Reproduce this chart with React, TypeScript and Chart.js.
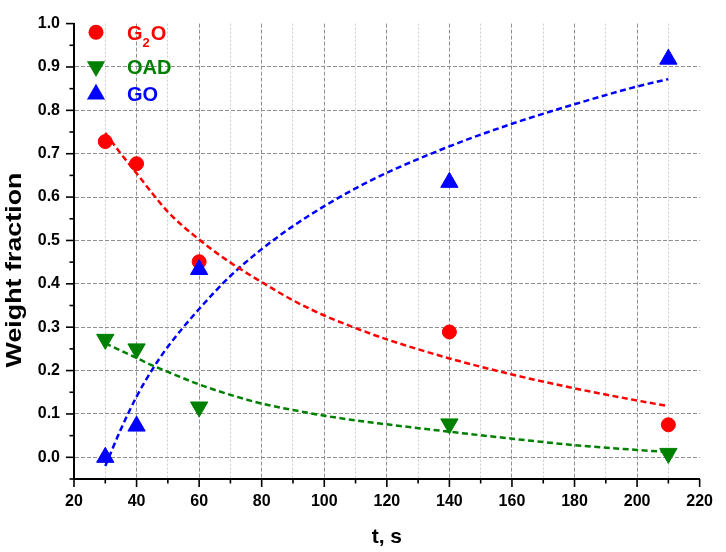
import { useEffect, useRef } from 'react';
import { Chart, registerables } from 'chart.js';

Chart.register(...registerables);

// measured points
const timeS = [30, 40, 60, 140, 210];
const g2o = [0.728, 0.677, 0.451, 0.289, 0.075];
const oad = [0.272, 0.25, 0.116, 0.077, 0.009];
const go = [0.0, 0.072, 0.433, 0.634, 0.918];

// fitted dashed curves
const fitX = [30, 35, 40, 45, 50, 60, 70, 80, 90, 100, 110, 120, 140, 160, 180, 200, 210];
const fitG2O = [0.748, 0.7, 0.655, 0.609, 0.566, 0.502, 0.449, 0.404, 0.362, 0.327, 0.298, 0.272, 0.228, 0.191, 0.159, 0.131, 0.118];
const fitOAD = [0.263, 0.246, 0.229, 0.212, 0.197, 0.168, 0.144, 0.124, 0.109, 0.096, 0.085, 0.076, 0.059, 0.043, 0.028, 0.017, 0.012];
const fitGO = [-0.02, 0.065, 0.14, 0.202, 0.255, 0.342, 0.418, 0.48, 0.533, 0.579, 0.62, 0.656, 0.717, 0.769, 0.814, 0.855, 0.872];

// axis ticks
const xMajorTicks = [20, 40, 60, 80, 100, 120, 140, 160, 180, 200, 220];
const yMajorTicks = ['0.0', '0.1', '0.2', '0.3', '0.4', '0.5', '0.6', '0.7', '0.8', '0.9', '1.0'];

const seriesNames = ['G2O', 'OAD', 'GO'];
const seriesColors = ['#ff0000', '#008000', '#0000ff'];

const FONT = '"Liberation Sans", Arial, sans-serif';

const pts = (xs: number[], ys: number[]) => xs.map((x, i) => ({ x, y: ys[i] }));
const isYMajor = (v: number) => Math.round(v * 100) % 10 === 0 && yMajorTicks.includes(v.toFixed(1));

function drawMarker(ctx: CanvasRenderingContext2D, kind: string, cx: number, cy: number, color: string) {
  ctx.fillStyle = color;
  ctx.beginPath();
  if (kind === 'circle') {
    ctx.arc(cx, cy, 7.5, 0, Math.PI * 2);
  } else {
    const r = 10.5;
    const dir = kind === 'down' ? 1 : -1;
    ctx.moveTo(cx, cy + dir * r);
    ctx.lineTo(cx + r * Math.sin((2 * Math.PI) / 3), cy - dir * r * 0.5);
    ctx.lineTo(cx - r * Math.sin((2 * Math.PI) / 3), cy - dir * r * 0.5);
    ctx.closePath();
  }
  ctx.fill();
}

const decor = {
  id: 'decor',
  afterDraw(chart: any) {
    const { ctx, chartArea: a, scales } = chart;
    const x = scales.x;
    const y = scales.y;
    ctx.save();
    ctx.strokeStyle = '#000';
    ctx.lineWidth = 1.6;
    x.ticks.forEach((t: any) => {
      const px = x.getPixelForValue(t.value);
      const major = xMajorTicks.includes(t.value);
      ctx.beginPath();
      ctx.moveTo(px, a.bottom);
      ctx.lineTo(px, a.bottom + (major ? 8 : 4.5));
      ctx.stroke();
    });
    y.ticks.forEach((t: any) => {
      const py = y.getPixelForValue(t.value);
      const major = isYMajor(t.value);
      ctx.beginPath();
      ctx.moveTo(a.left, py);
      ctx.lineTo(a.left - (major ? 8 : 4.5), py);
      ctx.stroke();
    });

    // axis titles
    ctx.fillStyle = '#000';
    ctx.textBaseline = 'alphabetic';
    ctx.textAlign = 'center';
    ctx.font = `bold 21px ${FONT}`;
    ctx.fillText('t, s', (a.left + a.right) / 2, 543);
    ctx.save();
    ctx.translate(21, 270);
    ctx.rotate(-Math.PI / 2);
    ctx.scale(1.22, 1);
    ctx.font = `bold 22px ${FONT}`;
    ctx.fillText('Weight fraction', 0, 0);
    ctx.restore();

    // legend
    const kinds = ['circle', 'down', 'up'];
    const rowsY = [32.3, 66.5, 94.3];
    const baseY = [40, 74, 101];
    ctx.textAlign = 'left';
    seriesNames.forEach((name, i) => {
      drawMarker(ctx, kinds[i], a.left + 22, rowsY[i], seriesColors[i]);
      ctx.fillStyle = seriesColors[i];
      let tx = a.left + 53;
      const m = name.match(/^([A-Z]+)(\d)([A-Z]+)$/);
      if (m) {
        ctx.font = `bold 20px ${FONT}`;
        ctx.fillText(m[1], tx, baseY[i]);
        tx += ctx.measureText(m[1]).width;
        ctx.font = `bold 13px ${FONT}`;
        ctx.fillText(m[2], tx, baseY[i] + 7);
        tx += ctx.measureText(m[2]).width + 1;
        ctx.font = `bold 20px ${FONT}`;
        ctx.fillText(m[3], tx, baseY[i]);
      } else {
        ctx.font = `bold 20px ${FONT}`;
        ctx.fillText(name, tx, baseY[i]);
      }
    });
    ctx.restore();
  },
};

export default function App() {
  const ref = useRef<HTMLCanvasElement>(null);

  useEffect(() => {
    if (!ref.current) return;
    const curve = (data: number[], color: string) => ({
      type: 'line' as const,
      data: pts(fitX, data),
      showLine: true,
      borderColor: color,
      borderWidth: 2.5,
      borderDash: [6, 3.5],
      pointRadius: 0,
      fill: false,
      cubicInterpolationMode: 'monotone' as const,
      order: 10,
    });
    const marks = (data: number[], color: string, style: string, rotation: number, order: number) => ({
      type: 'scatter' as const,
      data: pts(timeS, data),
      showLine: false,
      backgroundColor: color,
      borderColor: color,
      borderWidth: 1,
      pointStyle: style,
      pointRotation: rotation,
      pointRadius: style === 'circle' ? 7 : 10,
      order,
    });

    const chart = new Chart(ref.current, {
      type: 'scatter',
      data: {
        datasets: [
          curve(fitG2O, seriesColors[0]),
          curve(fitOAD, seriesColors[1]),
          curve(fitGO, seriesColors[2]),
          marks(g2o, seriesColors[0], 'circle', 0, 3),
          marks(oad, seriesColors[1], 'triangle', 180, 2),
          marks(go, seriesColors[2], 'triangle', 0, 1),
        ] as any,
      },
      options: {
        animation: false,
        responsive: false,
        layout: { padding: { left: 0, right: 19, top: 10, bottom: 0 } },
        plugins: { legend: { display: false }, tooltip: { enabled: false } },
        scales: {
          x: {
            type: 'linear',
            min: 20,
            max: 220,
            afterFit: (s: any) => {
              s.height = 73;
            },
            ticks: {
              stepSize: 10,
              autoSkip: false,
              maxRotation: 0,
              padding: 13,
              color: '#000',
              font: { family: FONT, size: 16, weight: 'bold' },
              callback: (v: any) => (xMajorTicks.includes(v) ? String(v) : ''),
            },
            grid: {
              drawTicks: false,
              lineWidth: 1,
              color: (c: any) => {
                const v = c.tick ? c.tick.value : 0;
                if (v <= 20 || v >= 220) return 'rgba(0,0,0,0)';
                return xMajorTicks.includes(v) ? '#8f8f8f' : '#cccccc';
              },
            },
            border: {
              display: true,
              color: '#000',
              width: 2,
              dash: (c: any) => (c.tick && !xMajorTicks.includes(c.tick.value) ? [2, 2] : [4, 2]),
            },
          },
          y: {
            type: 'linear',
            min: -0.05,
            max: 1.0,
            afterFit: (s: any) => {
              s.width = 74;
            },
            ticks: {
              stepSize: 0.05,
              autoSkip: false,
              padding: 14,
              color: '#000',
              font: { family: FONT, size: 16, weight: 'bold' },
              callback: (v: any) => (isYMajor(v) && v >= 0 ? v.toFixed(1) : ''),
            },
            grid: {
              drawTicks: false,
              lineWidth: 1,
              color: (c: any) => {
                const v = c.tick ? c.tick.value : 0;
                if (!isYMajor(v) || v >= 0.999) return 'rgba(0,0,0,0)';
                return '#8f8f8f';
              },
            },
            border: { display: true, color: '#000', width: 2, dash: [4, 2] },
          },
        },
      },
      plugins: [decor],
    } as any);
    return () => chart.destroy();
  }, []);

  return (
    <div style={{ position: 'fixed', left: 0, top: 0, width: 726, height: 552, background: '#fff' }}>
      <canvas ref={ref} width={726} height={552} style={{ width: 726, height: 552, display: 'block' }} />
    </div>
  );
}
